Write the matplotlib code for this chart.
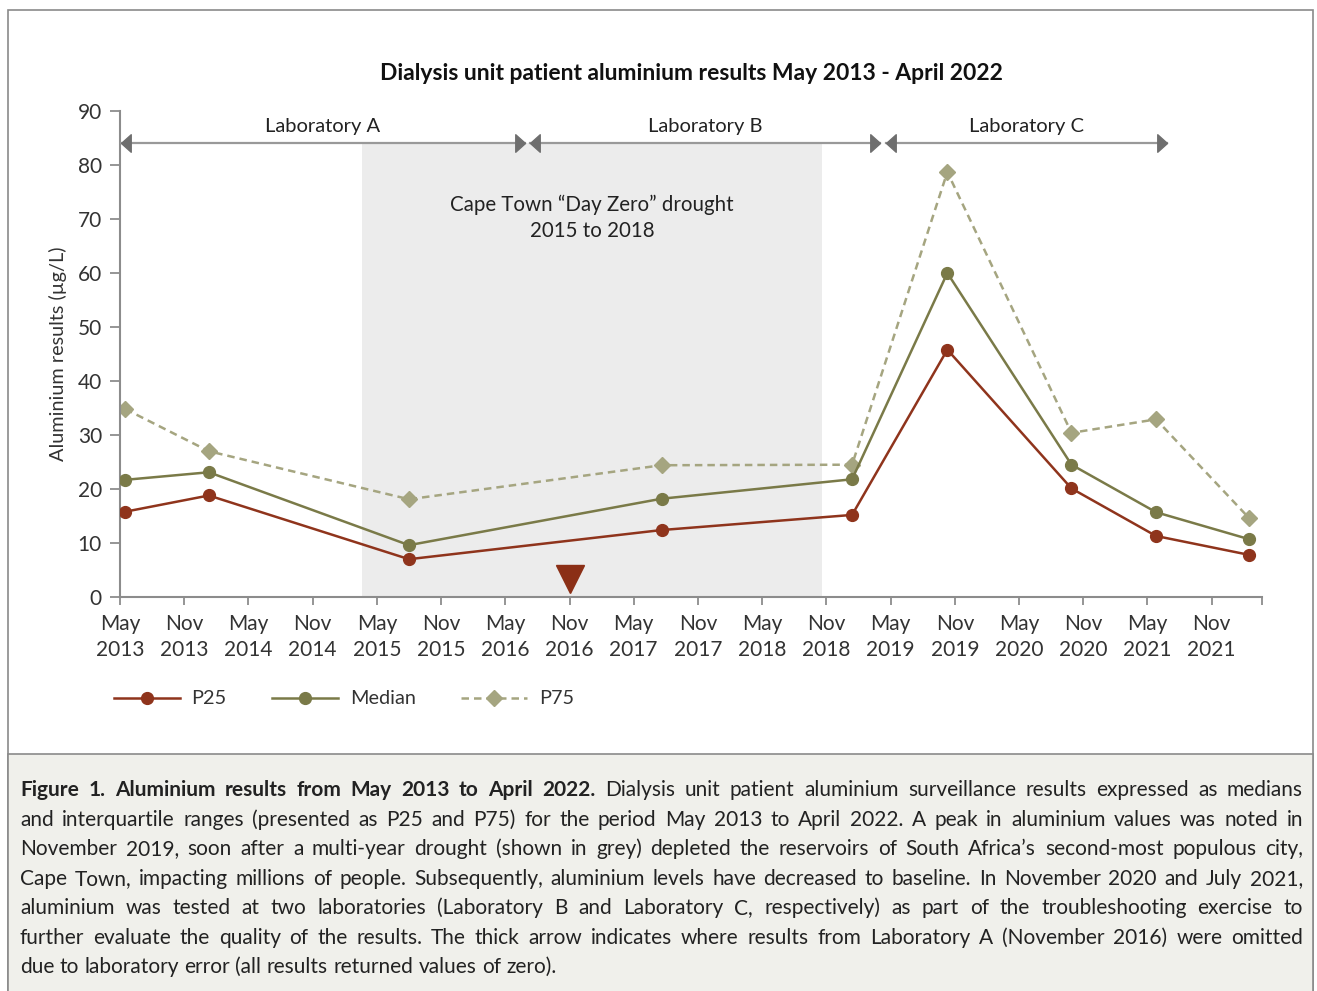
import matplotlib.pyplot as plt
from matplotlib.patches import Rectangle
from matplotlib.path import Path

plt.rcParams['font.family'] = ['Lato', 'DejaVu Sans']

# x values are months counted from May 2013
months = [0.5, 8.3, 27.0, 50.6, 68.4, 77.3, 88.9, 96.8, 105.5]
p25 = [15.8, 18.8, 7.0, 12.4, 15.2, 45.8, 20.1, 11.3, 7.8]
median = [21.7, 23.1, 9.6, 18.2, 21.8, 60.0, 24.5, 15.7, 10.7]
p75 = [34.8, 27.0, 18.1, 24.4, 24.5, 78.7, 30.4, 32.9, 14.6]

years = [2013, 2014, 2015, 2016, 2017, 2018, 2019, 2020, 2021]
tick_months = list(range(0, 103, 6))
tick_labels = [f"{m}\n{y}" for y in years for m in ("May", "Nov")]
axis_end = 106.7  # April 2022

labs = [("Laboratory A", 0.1, 37.8), ("Laboratory B", 38.3, 71.0), ("Laboratory C", 71.6, 97.8)]
lab_y = 84
drought = (22.6, 65.6)
omitted_month = 42  # Nov 2016
omitted_y = 3.3

caption_lines = [
    [("Figure 1. Aluminium results from May 2013 to April 2022.", "bold"),
     ("Dialysis unit patient aluminium surveillance results expressed as medians", "normal")],
    [("and interquartile ranges (presented as P25 and P75) for the period May 2013 to April 2022. A peak in aluminium values was noted in", "normal")],
    [("November 2019, soon after a multi-year drought (shown in grey) depleted the reservoirs of South Africa\u2019s second-most populous city,", "normal")],
    [("Cape Town, impacting millions of people. Subsequently, aluminium levels have decreased to baseline. In November 2020 and July 2021,", "normal")],
    [("aluminium was tested at two laboratories (Laboratory B and Laboratory C, respectively) as part of the troubleshooting exercise to", "normal")],
    [("further evaluate the quality of the results. The thick arrow indicates where results from Laboratory A (November 2016) were omitted", "normal")],
    [("due to laboratory error (all results returned values of zero).", "normal")],
]

c_p25 = "#8f341c"
c_med = "#7a7a48"
c_p75 = "#a5a580"
grey = "#8c8c8c"

W, H = 1317, 991
fig = plt.figure(figsize=(W / 100, H / 100), dpi=100)

# frame and caption background
fig.patches.append(Rectangle((8 / W, -0.01), (1313 - 8) / W, (991 - 10) / H + 0.01,
                             transform=fig.transFigure, fill=False, ec="#8a8a8a", lw=1.2, zorder=0))
fig.patches.append(Rectangle((8 / W, -0.01), (1313 - 8) / W, (991 - 754) / H + 0.01,
                             transform=fig.transFigure, fc="#f0f0eb", ec="#8a8a8a", lw=1.2, zorder=0))

ax = fig.add_axes([120 / W, 1 - 597 / H, (1262 - 120) / W, (597 - 111) / H])

ax.axvspan(drought[0], drought[1], ymin=0, ymax=lab_y / 90, color="#ececec", lw=0, zorder=0)

ax.plot(months, p25, color=c_p25, lw=1.8, marker="o", ms=8.5, label="P25", zorder=4)
ax.plot(months, median, color=c_med, lw=1.8, marker="o", ms=8.5, label="Median", zorder=3)
ax.plot(months, p75, color=c_p75, lw=1.8, ls=(0, (3, 2)), marker="D", ms=8, label="P75", zorder=2)

ax.plot([omitted_month], [omitted_y], marker="v", ms=20, color="#8b2f16", lw=0, zorder=5)

# laboratory arrows
left_head = Path([(0, 0), (1, 0.9), (1, -0.9), (0, 0)], [1, 2, 2, 79])
right_head = Path([(0, 0), (-1, 0.9), (-1, -0.9), (0, 0)], [1, 2, 2, 79])
for name, x0, x1 in labs:
    ax.plot([x0, x1], [lab_y, lab_y], color="#999999", lw=1.6, zorder=3, clip_on=False)
    ax.plot([x0], [lab_y], marker=left_head, ms=14, color="#6e6e6e", lw=0, zorder=4, clip_on=False)
    ax.plot([x1], [lab_y], marker=right_head, ms=14, color="#6e6e6e", lw=0, zorder=4, clip_on=False)
    ax.text((x0 + x1) / 2, lab_y + 1.6, name, ha="center", va="bottom", fontsize=14.5, color="#222222")

ax.text(44.1, 70.2, "Cape Town \u201cDay Zero\u201d drought\n2015 to 2018", ha="center", va="center",
        fontsize=14.8, color="#222222", linespacing=1.4)

ax.set_xlim(0, axis_end)
ax.set_ylim(0, 90)
ax.set_xticks(tick_months)
ax.set_xticklabels(tick_labels, linespacing=1.4)
ax.set_xticks([axis_end], minor=True)
ax.set_yticks(range(0, 91, 10))
ax.tick_params(axis="x", which="both", length=6, width=1.3, color=grey, pad=6, labelsize=15, labelcolor="#333333")
ax.tick_params(axis="y", length=7, width=1.3, color=grey, pad=6, labelsize=15, labelcolor="#333333")
for side in ("top", "right"):
    ax.spines[side].set_visible(False)
for side in ("left", "bottom"):
    ax.spines[side].set_color(grey)
    ax.spines[side].set_linewidth(1.5)
ax.set_ylabel("Aluminium results (\u00b5g/L)", fontsize=14.3, color="#333333", labelpad=8)

fig.text(691 / W, 1 - 73 / H, "Dialysis unit patient aluminium results May 2013 - April 2022",
         ha="center", va="center", fontsize=16.5, fontweight="bold", color="#111111")

ax.legend(loc="center left", bbox_to_anchor=(114 / W, 1 - 699 / H), bbox_transform=fig.transFigure,
          ncol=3, frameon=False, fontsize=14.3, handlelength=3.3, handletextpad=0.6,
          columnspacing=2.3, borderpad=0, borderaxespad=0, labelcolor="#333333")

# justified caption
renderer = fig.canvas.get_renderer()
x_left, x_right = 20, 1303
target = x_right - x_left
line_y = [790, 820, 849, 879, 908, 938, 967]


def word_list(line):
    out = []
    for chunk, weight in line:
        for w in chunk.split(" "):
            out.append((w, weight))
    return out


def measure(word, weight, size):
    t = fig.text(0, 0, word, fontsize=size, fontweight=weight)
    w = t.get_window_extent(renderer).width
    t.remove()
    return w


fs = 15
space = measure("a a", "normal", fs) - measure("aa", "normal", fs)
worst = 0
for line in caption_lines:
    words = word_list(line)
    total = sum(measure(w, wt, fs) for w, wt in words) + space * 0.8 * (len(words) - 1)
    worst = max(worst, total / target)
if worst > 1:
    fs = fs / worst

for i, line in enumerate(caption_lines):
    words = word_list(line)
    widths = [measure(w, wt, fs) for w, wt in words]
    if i < len(caption_lines) - 1:
        gap = (target - sum(widths)) / (len(words) - 1)
    else:
        gap = measure("a a", "normal", fs) - measure("aa", "normal", fs)
    x = x_left
    for (w, wt), wd in zip(words, widths):
        fig.text(x / W, 1 - line_y[i] / H, w, fontsize=fs, fontweight=wt, ha="left", va="center",
                 color="#222222")
        x += wd + gap

fig.savefig("out.png", dpi=100)
